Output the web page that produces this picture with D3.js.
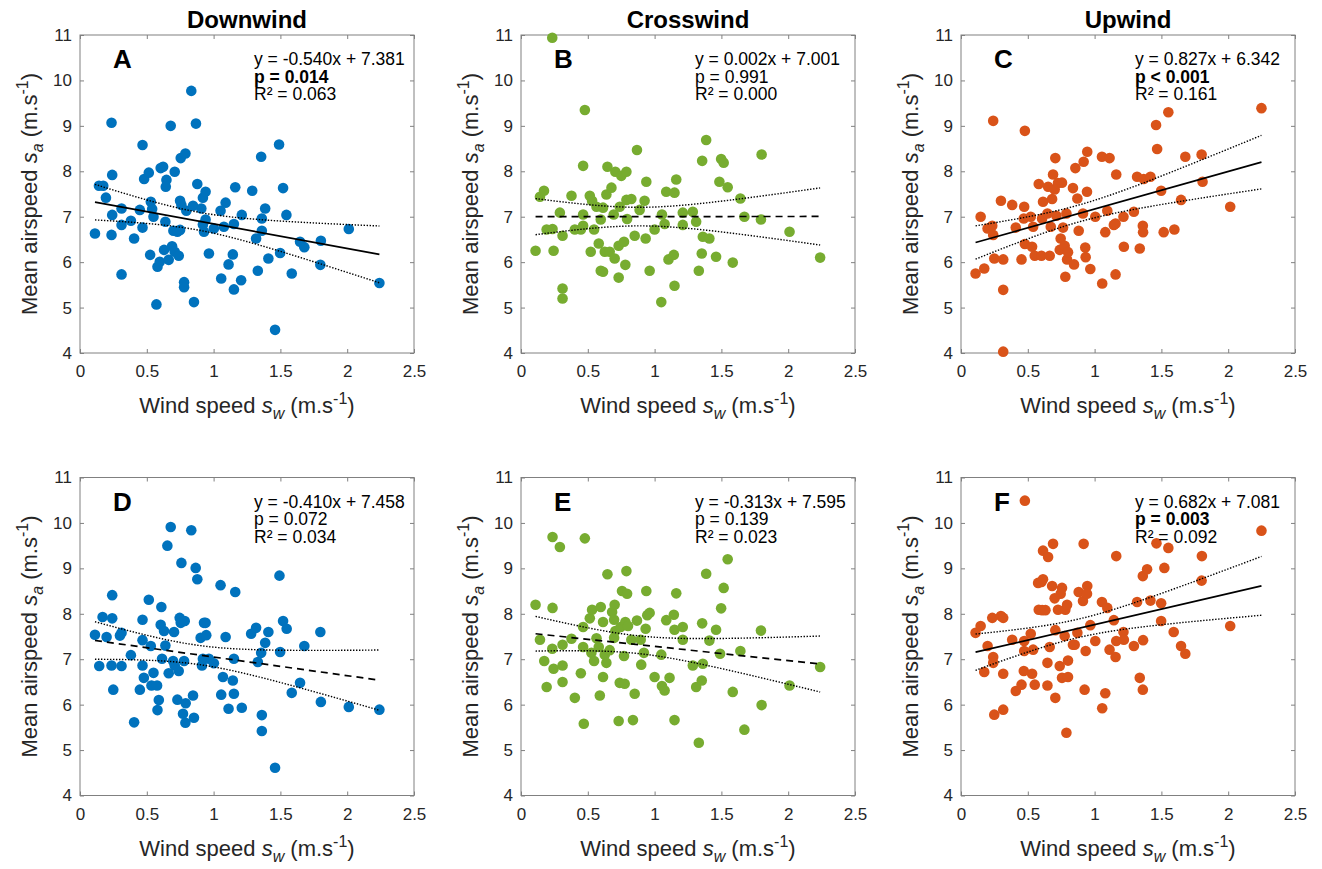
<!DOCTYPE html>
<html>
<head>
<meta charset="utf-8">
<script src="https://cdn.jsdelivr.net/npm/d3@7"></script>
<style>
  body { margin: 0; background: #fff; }
  text { font-family: "Liberation Sans", Arial, Helvetica, sans-serif; }
</style>
</head>
<body>
<div id="chart"></div>
<script>
// ---- data ----
const columnTitles = ["Downwind", "Crosswind", "Upwind"];
const panelLetters = ["A", "B", "C", "D", "E", "F"];
const xTicks = [0, 0.5, 1, 1.5, 2, 2.5];
const yTicks = [4, 5, 6, 7, 8, 9, 10, 11];

const slopes = [-0.540, 0.002, 0.827, -0.410, -0.313, 0.682];
const intercepts = [7.381, 7.001, 6.342, 7.458, 7.595, 7.081];
const eqLabels = ["y = -0.540x + 7.381", "y = 0.002x + 7.001", "y = 0.827x + 6.342",
                  "y = -0.410x + 7.458", "y = -0.313x + 7.595", "y = 0.682x + 7.081"];
const pLabels = ["p = 0.014", "p = 0.991", "p < 0.001", "p = 0.072", "p = 0.139", "p = 0.003"];
const r2Labels = ["R² = 0.063", "R² = 0.000", "R² = 0.161", "R² = 0.034", "R² = 0.023", "R² = 0.092"];
const significant = [true, false, true, false, false, true];

// [wind speed, mean airspeed]
const downwindTop = [[0.112,6.63],[0.142,7.68],[0.174,7.68],[0.194,7.42],[0.236,9.07],[0.241,7.92],[0.241,7.04],[0.236,6.60],[0.311,5.73],[0.311,7.18],[0.311,6.82],[0.381,6.91],[0.405,6.52],[0.448,7.15],[0.468,8.58],[0.468,6.76],[0.480,7.83],[0.515,7.97],[0.525,6.16],[0.530,7.33],[0.540,7.17],[0.550,7.00],[0.580,5.90],[0.572,5.07],[0.597,6.01],[0.604,8.07],[0.622,8.10],[0.629,6.27],[0.639,6.89],[0.647,7.81],[0.642,7.66],[0.664,6.05],[0.679,9.00],[0.689,6.35],[0.699,6.69],[0.709,6.23],[0.709,7.99],[0.729,6.67],[0.739,6.14],[0.749,6.71],[0.754,8.29],[0.759,7.26],[0.749,7.35],[0.789,8.39],[0.779,5.56],[0.779,5.45],[0.796,7.13],[0.833,9.77],[0.846,7.24],[0.853,5.12],[0.868,9.05],[0.878,7.72],[0.908,7.18],[0.920,6.83],[0.920,7.42],[0.928,6.67],[0.940,7.55],[0.940,6.94],[0.965,6.19],[1.002,6.74],[1.052,7.13],[1.057,5.64],[1.077,6.78],[1.090,7.31],[1.112,5.95],[1.144,6.17],[1.152,6.84],[1.152,5.40],[1.162,7.65],[1.206,5.60],[1.211,7.04],[1.289,7.57],[1.318,6.52],[1.331,5.81],[1.356,8.32],[1.361,6.96],[1.361,6.69],[1.386,7.18],[1.410,6.08],[1.460,4.51],[1.490,8.59],[1.498,6.20],[1.520,7.63],[1.545,7.04],[1.585,5.75],[1.647,6.45],[1.679,6.33],[1.803,6.47],[1.799,5.94],[2.012,6.73],[2.241,5.54]];

const crosswindTop = [[0.234,10.94],[0.109,6.25],[0.142,7.44],[0.172,7.57],[0.192,6.72],[0.236,6.73],[0.244,6.25],[0.291,7.09],[0.311,6.58],[0.311,5.42],[0.311,5.20],[0.378,7.46],[0.403,6.72],[0.448,6.72],[0.465,7.05],[0.465,6.80],[0.465,8.12],[0.478,9.35],[0.515,7.46],[0.522,6.23],[0.532,7.35],[0.547,6.72],[0.565,7.22],[0.582,6.41],[0.597,5.81],[0.614,5.79],[0.597,6.94],[0.614,7.20],[0.627,6.23],[0.639,7.49],[0.647,8.10],[0.664,6.23],[0.677,7.64],[0.694,7.05],[0.701,6.08],[0.706,7.99],[0.731,5.66],[0.731,6.36],[0.739,7.22],[0.751,7.90],[0.771,6.45],[0.781,5.94],[0.789,7.99],[0.789,7.37],[0.794,6.95],[0.826,7.39],[0.851,6.58],[0.868,8.47],[0.888,7.15],[0.925,7.35],[0.933,6.52],[0.938,7.77],[0.963,5.81],[1.000,6.72],[1.050,5.12],[1.055,7.05],[1.075,6.84],[1.087,7.55],[1.104,6.06],[1.144,6.16],[1.149,7.53],[1.149,5.48],[1.162,7.82],[1.211,7.09],[1.211,6.82],[1.286,7.11],[1.311,6.89],[1.331,5.81],[1.353,6.19],[1.356,8.23],[1.361,6.56],[1.386,8.69],[1.410,6.52],[1.460,6.12],[1.485,7.77],[1.498,8.27],[1.517,8.19],[1.547,7.65],[1.585,5.99],[1.642,7.40],[1.672,7.00],[1.796,6.94],[1.801,8.37],[2.010,6.67],[2.239,6.10]];

const upwindTop = [[0.109,5.75],[0.147,7.00],[0.174,5.86],[0.199,6.74],[0.234,6.80],[0.241,9.11],[0.241,6.60],[0.249,6.08],[0.299,7.35],[0.316,5.39],[0.316,6.06],[0.316,4.03],[0.383,7.26],[0.410,6.76],[0.453,6.06],[0.470,6.96],[0.473,7.22],[0.478,8.89],[0.478,6.40],[0.522,7.00],[0.532,6.34],[0.540,6.78],[0.552,6.14],[0.582,7.72],[0.602,6.14],[0.607,6.96],[0.614,7.33],[0.647,7.07],[0.652,7.66],[0.664,6.14],[0.672,6.78],[0.682,7.39],[0.689,7.93],[0.701,7.60],[0.706,8.29],[0.714,7.02],[0.726,7.74],[0.746,6.52],[0.756,7.75],[0.739,6.27],[0.764,6.76],[0.776,6.36],[0.781,5.68],[0.789,7.07],[0.794,6.06],[0.801,6.22],[0.838,7.63],[0.846,5.95],[0.856,8.07],[0.871,7.40],[0.881,6.69],[0.913,7.07],[0.918,8.21],[0.930,6.32],[0.933,6.11],[0.943,7.55],[0.945,8.43],[0.968,5.85],[1.005,7.00],[1.055,8.32],[1.057,5.53],[1.080,6.66],[1.095,7.13],[1.112,8.29],[1.144,6.82],[1.157,6.85],[1.162,7.93],[1.157,5.73],[1.216,7.00],[1.219,6.34],[1.294,7.11],[1.318,7.88],[1.338,6.30],[1.361,6.80],[1.363,6.66],[1.368,7.83],[1.418,7.88],[1.460,9.02],[1.468,8.49],[1.498,7.57],[1.517,6.66],[1.552,9.30],[1.597,6.72],[1.647,7.37],[1.679,8.32],[1.801,8.37],[1.808,7.77],[2.015,7.22],[2.249,9.39]];

const downwindBottom = [[0.112,7.54],[0.144,6.85],[0.169,7.93],[0.199,7.49],[0.236,6.86],[0.241,7.90],[0.241,8.41],[0.249,6.33],[0.299,7.52],[0.311,7.58],[0.311,6.85],[0.381,7.09],[0.405,5.61],[0.448,6.33],[0.468,7.87],[0.468,7.42],[0.468,6.86],[0.478,6.59],[0.515,8.31],[0.530,7.29],[0.535,6.42],[0.550,6.70],[0.577,6.42],[0.590,6.10],[0.580,5.88],[0.604,7.76],[0.609,8.15],[0.614,7.01],[0.629,7.62],[0.639,7.30],[0.654,9.50],[0.664,6.69],[0.679,9.91],[0.697,6.96],[0.704,7.60],[0.709,6.86],[0.729,6.11],[0.739,6.74],[0.746,7.91],[0.754,7.80],[0.759,9.12],[0.771,5.80],[0.779,6.96],[0.784,7.84],[0.789,5.60],[0.791,6.03],[0.833,9.84],[0.846,6.20],[0.853,5.71],[0.866,9.01],[0.878,8.76],[0.903,7.47],[0.913,6.86],[0.920,7.01],[0.928,7.80],[0.940,7.80],[0.945,7.53],[0.965,7.01],[1.002,6.91],[1.052,8.63],[1.057,6.22],[1.070,6.61],[1.090,7.49],[1.112,5.91],[1.144,6.53],[1.152,6.24],[1.152,7.01],[1.162,8.48],[1.211,5.93],[1.281,7.56],[1.318,7.69],[1.331,6.94],[1.356,7.14],[1.361,5.77],[1.361,5.42],[1.386,7.36],[1.410,7.60],[1.460,4.61],[1.493,8.84],[1.498,7.16],[1.520,7.84],[1.547,7.67],[1.585,6.26],[1.647,6.48],[1.679,7.29],[1.799,7.60],[1.803,6.06],[2.012,5.95],[2.241,5.89]];

const crosswindBottom = [[0.109,8.20],[0.142,7.43],[0.174,6.96],[0.192,6.39],[0.234,7.23],[0.236,9.69],[0.236,8.13],[0.244,6.79],[0.291,9.47],[0.311,7.32],[0.311,6.86],[0.311,6.50],[0.378,7.45],[0.403,6.15],[0.448,6.69],[0.465,7.71],[0.465,7.27],[0.470,5.58],[0.478,9.66],[0.515,7.90],[0.527,7.14],[0.532,8.09],[0.547,6.96],[0.565,7.46],[0.582,7.27],[0.590,6.20],[0.597,8.15],[0.614,7.82],[0.614,6.61],[0.627,7.10],[0.639,6.92],[0.647,8.87],[0.664,7.20],[0.682,8.04],[0.697,7.87],[0.701,8.20],[0.697,7.47],[0.706,7.62],[0.731,5.64],[0.739,6.48],[0.746,7.71],[0.756,8.50],[0.771,7.07],[0.776,6.46],[0.781,7.82],[0.789,8.94],[0.794,8.44],[0.801,7.73],[0.826,7.43],[0.838,5.66],[0.851,6.24],[0.868,7.85],[0.896,7.43],[0.900,6.88],[0.920,7.14],[0.933,7.67],[0.938,8.50],[0.945,7.97],[0.963,8.02],[1.000,6.61],[1.050,7.10],[1.055,6.41],[1.075,6.31],[1.087,7.86],[1.112,6.59],[1.144,7.98],[1.149,7.65],[1.149,5.66],[1.162,8.45],[1.211,7.71],[1.211,7.43],[1.286,6.86],[1.311,6.39],[1.331,5.16],[1.353,6.53],[1.356,7.79],[1.361,6.90],[1.386,8.88],[1.410,7.41],[1.460,7.65],[1.490,7.12],[1.498,8.12],[1.517,8.57],[1.547,9.20],[1.585,6.28],[1.642,7.18],[1.672,5.45],[1.796,7.63],[1.801,5.99],[2.010,6.42],[2.239,6.83]];

const upwindBottom = [[0.109,7.58],[0.147,7.73],[0.174,6.72],[0.199,7.29],[0.234,7.91],[0.241,7.05],[0.241,6.92],[0.249,5.78],[0.299,7.95],[0.316,7.91],[0.316,6.68],[0.316,5.89],[0.383,7.43],[0.410,6.30],[0.453,6.44],[0.470,6.74],[0.473,7.40],[0.473,7.18],[0.478,10.49],[0.522,7.56],[0.532,6.68],[0.540,7.21],[0.552,6.44],[0.582,8.09],[0.577,8.68],[0.602,8.70],[0.607,8.08],[0.614,9.39],[0.614,8.76],[0.632,8.08],[0.647,6.92],[0.647,6.42],[0.652,9.25],[0.664,7.27],[0.682,8.61],[0.689,9.54],[0.701,8.34],[0.706,7.64],[0.706,6.15],[0.726,8.09],[0.739,6.85],[0.746,8.44],[0.756,8.57],[0.756,6.59],[0.776,7.51],[0.781,8.09],[0.789,5.38],[0.794,8.20],[0.801,6.97],[0.801,6.61],[0.838,7.32],[0.851,7.32],[0.871,7.58],[0.881,8.48],[0.913,8.28],[0.918,9.54],[0.925,6.33],[0.933,7.18],[0.945,8.61],[0.943,8.44],[0.968,7.75],[1.005,7.40],[1.055,8.26],[1.057,5.92],[1.080,6.25],[1.095,8.13],[1.112,7.21],[1.144,7.86],[1.157,7.05],[1.162,9.27],[1.162,7.40],[1.216,7.60],[1.219,7.43],[1.294,7.29],[1.318,8.26],[1.338,6.59],[1.361,8.83],[1.363,7.42],[1.361,6.33],[1.393,8.98],[1.418,8.29],[1.463,9.55],[1.498,8.23],[1.498,7.84],[1.522,9.01],[1.552,9.45],[1.592,7.60],[1.647,7.29],[1.679,7.12],[1.803,9.27],[1.801,8.73],[2.015,7.73],[2.249,9.83]];

const panelPoints = [downwindTop, crosswindTop, upwindTop, downwindBottom, crosswindBottom, upwindBottom];

// ---- layout / style ----
const colours = ["#0072BD", "#77AC30", "#D95319"];
const W = 1322, H = 869;
const panelW = 334, panelH = 318;
const colLeft = [80, 521, 961];
const rowTop = [35, 477.5];
const T_CRIT = 1.987; // t(0.975, ~89 df)
const boxGrey = "#808080", textDark = "#262626";

const svg = d3.select("#chart").append("svg")
    .attr("width", W)
    .attr("height", H);

// 95% confidence band of the fitted mean, from the points themselves
const confBand = (pts, slope, icpt) => {
    const n = pts.length;
    const mx = d3.mean(pts, d => d[0]);
    const sxx = d3.sum(pts, d => (d[0] - mx) ** 2);
    const sse = d3.sum(pts, d => (d[1] - (icpt + slope * d[0])) ** 2);
    const s = Math.sqrt(sse / (n - 2));
    const [x0, x1] = d3.extent(pts, d => d[0]);
    return d3.range(61).map(k => {
        const x = x0 + k * (x1 - x0) / 60;
        const h = T_CRIT * s * Math.sqrt(1 / n + (x - mx) ** 2 / sxx);
        const yh = icpt + slope * x;
        return {x: x, lo: yh - h, hi: yh + h};
    });
};

panelPoints.forEach((pts, i) => {
    const col = i % 3, row = Math.floor(i / 3);
    const g = svg.append("g")
        .attr("transform", "translate(" + colLeft[col] + "," + rowTop[row] + ")");

    const x = d3.scaleLinear().domain([0, 2.5]).range([0, panelW]);
    const y = d3.scaleLinear().domain([4, 11]).range([panelH, 0]);

    // axes with inward ticks on all four sides
    const styleAxis = (a) => {
        a.select(".domain").remove();
        a.selectAll(".tick line").attr("stroke", boxGrey);
        a.selectAll(".tick text")
            .attr("fill", textDark)
            .style("font-size", "17px")
            .style("font-family", "'Liberation Sans', Arial, sans-serif");
    };
    g.append("g").attr("transform", "translate(0," + panelH + ")")
        .call(d3.axisBottom(x).tickValues(xTicks).tickFormat(d3.format("~g"))
            .tickSizeInner(-4).tickSizeOuter(0).tickPadding(12))
        .call(styleAxis);
    g.append("g")
        .call(d3.axisTop(x).tickValues(xTicks).tickFormat("").tickSizeInner(-4).tickSizeOuter(0))
        .call(styleAxis);
    g.append("g")
        .call(d3.axisLeft(y).tickValues(yTicks).tickFormat(d3.format("~g"))
            .tickSizeInner(-4).tickSizeOuter(0).tickPadding(8))
        .call(styleAxis);
    g.append("g").attr("transform", "translate(" + panelW + ",0)")
        .call(d3.axisRight(y).tickValues(yTicks).tickFormat("").tickSizeInner(-4).tickSizeOuter(0))
        .call(styleAxis);

    g.append("rect")
        .attr("width", panelW).attr("height", panelH)
        .attr("fill", "none").attr("stroke", boxGrey).attr("stroke-width", 1);

    // scatter
    g.append("g").selectAll("circle")
        .data(pts)
        .enter()
        .append("circle")
        .attr("cx", d => x(d[0]))
        .attr("cy", d => y(d[1]))
        .attr("r", 5.3)
        .attr("fill", colours[col]);

    // fit + confidence band
    const band = confBand(pts, slopes[i], intercepts[i]);
    const lineHi = d3.line().x(d => x(d.x)).y(d => y(d.hi));
    const lineLo = d3.line().x(d => x(d.x)).y(d => y(d.lo));
    [lineHi, lineLo].forEach(ln => {
        g.append("path").datum(band)
            .attr("d", ln)
            .attr("fill", "none")
            .attr("stroke", "#000")
            .attr("stroke-width", 1.4)
            .attr("stroke-dasharray", "1.4,1.6");
    });
    const xr = d3.extent(pts, d => d[0]);
    g.append("line")
        .attr("x1", x(xr[0])).attr("y1", y(intercepts[i] + slopes[i] * xr[0]))
        .attr("x2", x(xr[1])).attr("y2", y(intercepts[i] + slopes[i] * xr[1]))
        .attr("stroke", "#000")
        .attr("stroke-width", 1.7)
        .attr("stroke-dasharray", significant[i] ? null : "7,5");

    // panel letter
    g.append("text")
        .attr("x", 33).attr("y", 33)
        .style("font-size", "26px").style("font-weight", "bold")
        .text(panelLetters[i]);

    // regression stats
    const stats = g.append("text").attr("x", 174).style("font-size", "17.5px").attr("fill", "#000");
    [eqLabels[i], pLabels[i], r2Labels[i]].forEach((t, k) => {
        stats.append("tspan")
            .attr("x", 174)
            .attr("y", 30 + k * 17.5)
            .style("font-weight", (k == 1 && significant[i]) ? "bold" : "normal")
            .text(t);
    });

    // column titles
    if (row == 0) {
        g.append("text")
            .attr("x", panelW / 2).attr("y", -7)
            .attr("text-anchor", "middle")
            .style("font-size", "24px").style("font-weight", "bold")
            .text(columnTitles[col]);
    }

    // x label
    const xl = g.append("text")
        .attr("x", panelW / 2).attr("y", panelH + 60)
        .attr("text-anchor", "middle")
        .attr("fill", textDark)
        .style("font-size", "22px");
    xl.append("tspan").text("Wind speed ");
    xl.append("tspan").style("font-style", "italic").text("s");
    xl.append("tspan").style("font-style", "italic").style("font-size", "16px").attr("dy", 6).text("w");
    xl.append("tspan").attr("dy", -6).text(" (m.s");
    xl.append("tspan").style("font-size", "16px").attr("dy", -9).text("-1");
    xl.append("tspan").attr("dy", 9).text(")");

    // y label
    const yl = g.append("text")
        .attr("transform", "translate(-43," + (panelH / 2) + ") rotate(-90)")
        .attr("text-anchor", "middle")
        .attr("fill", textDark)
        .style("font-size", "22px");
    yl.append("tspan").text("Mean airspeed ");
    yl.append("tspan").style("font-style", "italic").text("s");
    yl.append("tspan").style("font-style", "italic").style("font-size", "16px").attr("dy", 6).text("a");
    yl.append("tspan").attr("dy", -6).text(" (m.s");
    yl.append("tspan").style("font-size", "16px").attr("dy", -9).text("-1");
    yl.append("tspan").attr("dy", 9).text(")");
});
</script>
</body>
</html>
